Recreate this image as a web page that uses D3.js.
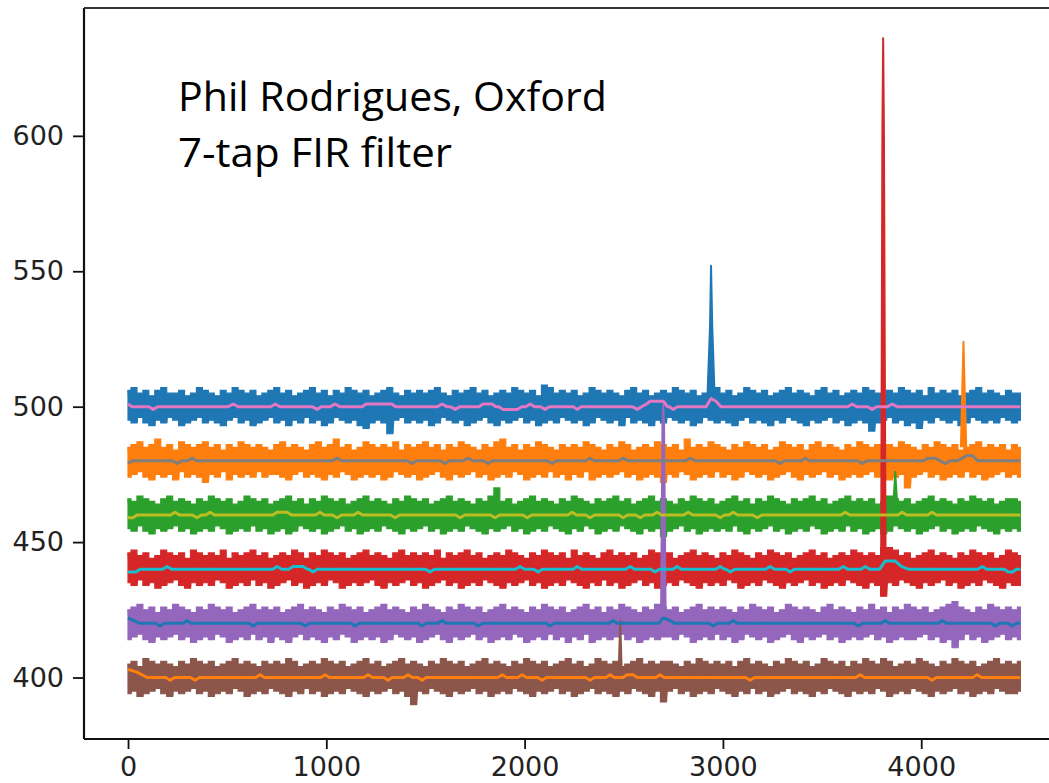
<!DOCTYPE html>
<html>
<head>
<meta charset="utf-8">
<script src="https://cdn.jsdelivr.net/npm/d3@7/dist/d3.min.js"></script>
<style>
  body { margin: 0; background: #fff; }
  svg { display: block; }
</style>
</head>
<body>
<div id="chart"></div>
<script>
// ---- data ----
const baselines = [500, 480, 460, 440, 420, 400];
const rawColors = ["#1f77b4", "#ff7f0e", "#2ca02c", "#d62728", "#9467bd", "#8c564b"];
const smoothColors = ["#e377c2", "#7f7f7f", "#bcbd22", "#17becf", "#1f77b4", "#ff7f0e"];
const xTicks = [0, 1000, 2000, 3000, 4000];
const yTicks = [400, 450, 500, 550, 600];
const binStep = 30; // one envelope reading every 30 samples, 0..4500

// upper / lower envelope of each noisy trace, in units away from its baseline
const blueHi = [6,7,5,6,4,6,7,5,5,6,4,5,7,6,5,4,6,5,7,6,5,6,4,5,6, 7,5,6,4,5,6,7,5,6,4,6,5,7,6,5,6,4,5,6,7,5,4,6,5,6, 5,6,7,5,4,6,5,6,7,5,6,4,5,6,5,7,6,5,6,4,8,7,5,6,5, 6,4,5,7,6,5,6,5,4,6,7,5,6,4,5,6,5,7,6,5,6,4,5,6,7, 5,6,4,5,7,6,5,6,4,5,6,7,5,6,5,4,6,7,5,6,4,5,6,5,7, 6,5,4,6,5,7,6,5,6,4,7,5,6,5,6,4,5,6,7,5,6,5,4,6,5, 5];
const blueLo = [5,6,4,6,7,5,6,4,5,7,6,5,4,6,5,6,7,5,4,6,5,7,6,5,4, 6,5,7,5,6,4,6,5,7,6,4,5,6,5,7,8,6,5,6,10,5,4,6,5,6, 5,7,6,4,5,6,5,7,6,5,4,6,7,5,6,5,4,6,5,7,6,5,6,4,5, 6,5,7,6,4,5,6,5,7,4,6,5,6,7,5,6,4,5,6,5,7,6,4,5,6, 5,6,7,5,4,6,5,6,7,5,6,4,5,6,7,5,6,5,4,6,5,7,6,5,6, 9,6,5,4,6,5,7,6,8,5,6,4,5,6,5,7,6,4,5,6,5,6,4,5,6, 5];
const orangeHi = [5,6,7,5,6,8,5,6,4,7,6,5,6,7,5,6,4,6,5,7,6,5,6,5,4, 6,7,5,6,5,4,6,7,5,6,8,5,6,4,5,7,6,5,6,5,7,4,6,5,6, 7,5,6,4,6,5,7,6,5,4,6,5,7,8,5,6,4,6,5,7,6,5,4,6,5, 6,5,7,6,5,4,6,5,7,6,4,5,6,5,7,6,5,6,4,8,5,6,5,7,6, 5,4,6,5,7,6,5,6,4,5,7,6,5,6,4,6,7,5,6,5,4,6,5,7,6, 5,6,4,6,5,7,6,5,4,6,5,7,6,5,6,4,5,6,7,5,6,5,6,4,6, 5];
const orangeLo = [6,5,4,6,7,5,6,5,7,4,6,5,6,8,5,6,4,7,5,6,5,6,4,6,5, 5,6,7,5,4,6,5,6,7,5,6,4,5,7,6,5,6,5,7,6,4,5,6,5,7, 6,5,4,6,7,5,6,5,4,6,5,7,6,5,6,4,5,7,6,5,6,4,6,5,7, 5,6,4,7,6,5,6,5,4,6,5,7,6,5,6,8,5,6,4,5,7,6,5,6,4, 6,5,7,6,4,5,6,5,7,6,5,4,6,7,5,6,5,4,6,5,7,6,5,6,5, 4,6,5,7,6,5,10,6,5,4,6,5,7,6,5,6,4,6,5,7,6,5,4,6,5, 6];
const greenHi = [6,5,7,6,5,4,6,7,5,6,5,4,6,5,7,6,5,6,4,5,7,6,5,6,4, 5,6,7,5,6,4,6,5,7,6,5,6,4,5,6,7,5,6,5,4,6,5,7,6,5, 6,4,5,6,7,5,6,5,4,6,5,7,10,5,6,4,5,6,7,5,6,5,4,6,5, 7,6,5,4,6,5,6,7,5,6,4,5,6,7,5,6,5,4,6,5,7,6,5,6,4, 5,6,7,5,6,4,6,5,7,6,5,4,6,5,6,7,5,6,4,5,6,7,5,6,5, 6,4,5,7,6,5,6,4,5,6,7,5,6,5,4,6,5,7,6,5,6,4,5,6,6, 5];
const greenLo = [5,6,4,6,7,5,6,5,4,6,5,7,6,5,6,4,5,7,6,5,6,4,6,5,7, 6,5,7,6,4,5,6,5,7,6,5,4,6,5,7,6,5,6,4,5,6,7,5,6,5, 4,6,5,7,6,5,6,4,5,6,7,5,6,5,4,6,5,7,6,5,6,4,5,6,7, 5,6,4,5,7,6,5,6,4,5,6,7,5,6,5,8,6,5,4,6,5,7,6,5,6, 5,6,4,6,7,5,6,5,4,6,5,7,6,5,6,4,5,7,6,5,6,4,6,5,7, 6,5,7,6,4,5,6,5,7,6,5,4,6,5,7,6,5,6,4,5,6,7,5,6,5, 6];
const redHi = [6,7,5,6,4,5,7,6,5,6,4,7,6,5,6,5,7,4,6,5,6,7,5,6,4, 5,6,5,7,6,4,6,5,7,6,5,6,4,5,6,7,5,6,5,4,6,7,5,6,5, 6,5,7,4,6,5,6,7,5,6,4,5,6,5,7,6,5,4,6,5,7,6,5,6,4, 7,5,6,5,4,6,7,5,6,5,6,4,5,7,6,5,6,4,5,6,7,5,6,5,4, 6,5,7,6,5,4,6,5,7,6,5,6,4,5,6,7,5,6,4,5,6,5,7,6,5, 6,5,8,8,7,5,6,4,5,6,7,5,6,5,4,6,5,7,6,5,6,4,5,7,6, 5];
const redLo = [5,6,4,6,5,7,6,5,4,6,7,5,6,5,6,4,5,7,6,5,6,4,6,5,7, 6,5,4,6,5,7,6,5,6,4,5,7,6,5,6,5,4,6,7,5,6,5,4,6,5, 7,6,5,4,6,5,7,6,5,6,4,5,6,7,5,6,5,4,6,5,7,6,5,6,4, 5,6,7,5,6,4,6,5,7,6,5,4,6,5,7,6,5,6,4,5,6,7,5,6,5, 6,4,5,7,6,5,6,4,5,6,7,5,6,5,4,6,5,7,6,5,6,4,5,6,7, 5,6,10,5,6,4,5,6,7,5,6,5,4,6,5,7,6,5,6,4,5,6,7,5,6, 6];
const purpleHi = [5,6,7,5,6,4,6,5,7,6,5,4,6,5,7,6,5,6,4,5,6,7,5,6,5, 6,4,5,6,7,5,6,5,4,6,5,7,6,5,6,4,5,6,7,5,6,5,4,6,5, 7,6,5,4,6,5,7,6,5,6,4,5,6,7,5,6,5,4,6,5,7,6,5,6,4, 5,6,7,5,6,4,6,5,7,6,5,4,6,5,7,6,5,6,4,5,6,7,5,6,5, 6,5,4,6,5,7,6,5,6,4,5,7,6,5,6,5,4,6,7,5,6,5,4,6,5, 7,5,6,4,6,5,7,6,5,6,4,5,6,7,8,6,5,4,6,5,7,6,5,6,5, 6];
const purpleLo = [6,5,4,6,7,5,6,5,4,6,5,7,6,5,6,4,5,7,6,5,6,4,6,5,7, 5,6,7,5,4,6,5,6,7,5,6,4,5,7,6,5,6,5,7,6,4,5,6,5,7, 6,5,4,6,7,5,6,5,4,6,5,7,6,5,6,4,5,7,6,5,6,4,6,5,7, 5,6,4,7,6,5,6,5,4,6,5,7,6,5,6,5,5,6,4,5,7,6,5,6,4, 6,5,7,6,4,5,6,5,7,6,5,4,6,7,5,6,5,4,6,5,7,6,5,6,5, 4,6,5,7,6,5,6,6,5,4,6,5,7,6,9,6,4,6,5,7,6,5,4,6,5, 6];
const brownHi = [5,6,4,7,6,5,6,5,4,6,5,7,6,5,6,4,5,6,7,5,6,5,4,6,5, 6,5,7,6,4,5,6,5,7,6,5,6,4,5,6,7,5,6,4,5,6,7,5,6,5, 4,6,5,7,6,5,6,4,5,6,7,5,6,5,4,6,5,7,6,5,6,4,5,6,7, 5,6,4,5,7,6,5,6,4,5,6,7,5,6,5,6,6,5,4,6,5,7,6,5,6, 5,6,4,6,7,5,6,5,4,6,5,7,6,5,6,4,5,7,6,5,6,4,6,5,7, 6,5,7,6,4,5,6,5,7,6,5,4,6,5,7,6,5,6,4,5,6,7,5,6,5, 6];
const brownLo = [6,5,7,6,5,4,6,7,5,6,5,4,6,5,7,6,5,6,4,5,7,6,5,6,4, 5,6,7,5,6,4,6,5,7,6,5,6,4,5,6,7,5,6,5,4,6,5,7,10,5, 6,4,5,6,7,5,6,5,4,6,5,7,6,5,6,4,5,6,7,5,6,5,4,6,5, 7,6,5,4,6,5,6,7,5,6,4,5,6,7,5,9,5,4,6,5,7,6,5,6,4, 5,6,7,5,6,4,6,5,7,6,5,4,6,5,6,7,5,6,4,5,6,7,5,6,5, 6,4,5,7,6,5,6,4,5,6,7,5,6,5,4,6,5,7,6,5,6,4,5,6,6, 5];

// the narrow glitches riding on the traces: [sample, value]
const blueSpike = [[2922, 504], [2935, 530], [2940, 552], [2946, 530], [2958, 504]];
const orangeSpike = [[4200, 485], [4209, 512], [4213, 524], [4217, 512], [4227, 485]];
const greenSpike = [[3860, 465], [3866, 472], [3869, 476], [3872, 472], [3878, 465]];
const redSpike = [[3798, 445], [3804, 600], [3808, 636], [3812, 600], [3820, 445]];
const purpleSpike = [[2688, 424], [2695, 494], [2699, 501], [2703, 494], [2711, 424]];
const brownSpike = [[2475, 404], [2480, 416], [2482, 421], [2484, 416], [2489, 404]];

// 7-tap FIR outputs: [sample, value]
const pinkSmooth = [[0,501],[20,500],[105,500],[127,499],[150,500],[505,500],[530,501],[555,500],[720,500],[742,501],[765,500],[930,500],[953,499],[975,500],[1020,500],[1044,501],[1068,500],[1180,500],[1200,501],[1330,501],[1350,500],[1560,500],[1584,501],[1608,500],[1625,500],[1650,499],[1675,500],[1770,500],[1790,501],[1836,501],[1855,500],[1870,500],[1890,499],[1965,499],[1985,500],[2005,500],[2028,501],[2050,500],[2080,500],[2103,499],[2125,500],[2245,500],[2265,499],[2285,500],[2545,500],[2567,499],[2590,500],[2615,501],[2633,502],[2700,502],[2720,500],[2730,500],[2749,499],[2770,500],[2915,500],[2940,503],[2965,502],[2990,500],[3630,500],[3652,501],[3675,500],[3730,500],[3753,499],[3775,500],[3830,500],[3854,501],[3878,500],[4500,500]];
const graySmooth = [[0,479],[20,480],[225,480],[247,479],[270,480],[300,480],[323,481],[345,480],[1030,480],[1054,481],[1078,480],[1410,480],[1432,479],[1455,480],[1575,480],[1599,479],[1620,480],[1690,480],[1715,481],[1740,480],[1795,480],[1816,479],[1838,480],[2115,480],[2139,479],[2160,480],[2310,480],[2330,481],[2350,480],[2475,480],[2497,481],[2520,480],[2810,480],[2835,481],[2860,480],[3265,480],[3289,479],[3310,480],[3395,480],[3415,481],[3435,480],[3680,480],[3702,479],[3725,480],[4010,480],[4035,481],[4070,481],[4095,480],[4121,479],[4145,480],[4185,480],[4207,481],[4230,482],[4257,482],[4285,480],[4500,480]];
const oliveSmooth = [[0,459],[25,459],[45,460],[215,460],[237,461],[260,460],[325,460],[348,459],[370,460],[392,460],[414,461],[436,460],[730,460],[751,461],[802,461],[825,460],[945,460],[968,461],[990,460],[1030,460],[1054,459],[1078,460],[1138,460],[1160,461],[1182,460],[1325,460],[1347,459],[1370,460],[1652,460],[1675,459],[1698,460],[1828,460],[1851,459],[1874,460],[1990,460],[2013,459],[2036,460],[2218,460],[2240,461],[2262,460],[2308,460],[2330,459],[2352,460],[2475,460],[2497,459],[2520,460],[2560,460],[2583,459],[2605,460],[2645,460],[2668,461],[2690,460],[2802,460],[2825,461],[2848,460],[2964,460],[2986,459],[3008,460],[3030,460],[3052,461],[3075,460],[3150,460],[3173,459],[3196,460],[3595,460],[3617,461],[3640,460],[3882,460],[3904,461],[3926,460],[4033,460],[4055,461],[4078,460],[4500,460]];
const cyanSmooth = [[0,439],[40,439],[60,440],[175,440],[197,441],[220,440],[730,440],[752,441],[775,440],[810,440],[832,441],[883,441],[905,440],[912,440],[933,439],[955,440],[1500,440],[1523,439],[1546,440],[1955,440],[1977,441],[2000,440],[2046,440],[2068,439],[2090,440],[2245,440],[2265,441],[2288,440],[2510,440],[2532,441],[2555,440],[2636,440],[2658,439],[2680,440],[2748,440],[2769,441],[2790,440],[2965,440],[2986,441],[3008,440],[3016,440],[3037,439],[3060,440],[3216,440],[3238,441],[3260,440],[3318,440],[3339,439],[3360,440],[3585,440],[3607,441],[3630,440],[3696,440],[3718,441],[3740,440],[3790,440],[3818,443],[3869,443],[3900,441],[3934,440],[4285,440],[4308,441],[4330,440],[4418,440],[4439,439],[4460,439],[4480,440],[4500,440]];
const blueSmooth = [[0,422],[30,421],[60,420],[140,420],[161,419],[182,420],[276,420],[298,421],[320,420],[610,420],[631,419],[652,420],[872,420],[893,419],[915,420],[1124,420],[1145,419],[1166,420],[1462,420],[1483,419],[1504,420],[1562,420],[1584,421],[1606,420],[1745,420],[1766,419],[1788,420],[2108,420],[2129,419],[2150,420],[2424,420],[2446,421],[2468,420],[2676,420],[2699,422],[2734,421],[2756,420],[2930,420],[2951,419],[2972,420],[3030,420],[3052,421],[3074,420],[3660,420],[3682,419],[3704,420],[3796,420],[3818,421],[3840,420],[4084,420],[4106,421],[4128,420],[4352,420],[4373,419],[4395,420],[4438,420],[4459,419],[4480,420],[4500,420]];
const orangeSmooth = [[0,403],[45,402],[96,400],[190,400],[212,399],[235,400],[315,400],[338,399],[360,400],[644,400],[666,401],[688,400],[972,400],[994,401],[1016,400],[1189,400],[1211,401],[1233,400],[1290,400],[1311,399],[1332,400],[1390,400],[1412,401],[1434,400],[1462,400],[1483,399],[1504,400],[1865,400],[1887,401],[1909,400],[1965,400],[1987,401],[2009,400],[2066,400],[2088,399],[2110,400],[2308,400],[2330,399],[2352,400],[2410,400],[2431,401],[2452,400],[2496,400],[2517,401],[2547,401],[2568,400],[2662,400],[2683,401],[2704,400],[3115,400],[3137,399],[3159,400],[3670,400],[3692,401],[3714,400],[4033,400],[4055,399],[4077,400],[4260,400],[4282,401],[4304,400],[4500,400]];

const noteLines = ["Phil Rodrigues, Oxford", "7-tap FIR filter"];

const highs = [blueHi, orangeHi, greenHi, redHi, purpleHi, brownHi];
const lows = [blueLo, orangeLo, greenLo, redLo, purpleLo, brownLo];
const spikes = [blueSpike, orangeSpike, greenSpike, redSpike, purpleSpike, brownSpike];
const smooths = [pinkSmooth, graySmooth, oliveSmooth, cyanSmooth, blueSmooth, orangeSmooth];

// ---- layout ----
const width = 1049, height = 783;
const plot = { left: 84, top: 8, bottom: 739, right: 1065 };

const svg = d3.select("#chart").append("svg")
  .attr("width", width)
  .attr("height", height);

const x = d3.scaleLinear().domain([-222, 4725]).range([plot.left, plot.right]);
const y = d3.scaleLinear().domain([377.3, 647.2]).range([plot.bottom, plot.top]);

svg.append("clipPath").attr("id", "clip")
  .append("rect")
  .attr("x", plot.left).attr("y", plot.top)
  .attr("width", plot.right - plot.left).attr("height", plot.bottom - plot.top);

const g = svg.append("g").attr("clip-path", "url(#clip)");

const band = d3.area()
  .curve(d3.curveStep)
  .x(d => x(d.t))
  .y0(d => y(d.lo))
  .y1(d => y(d.hi));
const line = d3.line().x(d => x(d[0])).y(d => y(d[1]));

// raw traces first, in colour-cycle order, each with its glitch
baselines.forEach(function(base, i) {
  let pts = highs[i].map(function(h, k) {
    return { t: k * binStep, hi: base + h, lo: base - lows[i][k] };
  });
  g.append("path")
    .attr("d", band(pts))
    .attr("fill", rawColors[i])
    .attr("stroke", rawColors[i])
    .attr("stroke-width", 1.2);
  // thin hairs through the envelope readings, like the dense raw line
  let zig = [];
  pts.forEach(function(p, k) {
    zig.push([p.t, p.hi]);
    if (k < pts.length - 1) zig.push([p.t + binStep / 2, p.lo]);
  });
  g.append("path")
    .attr("d", line(zig))
    .attr("fill", "none")
    .attr("stroke", rawColors[i])
    .attr("stroke-width", 1.3);
  g.append("path")
    .attr("d", line(spikes[i]))
    .attr("fill", rawColors[i])
    .attr("stroke", rawColors[i])
    .attr("stroke-width", 2)
    .attr("stroke-linejoin", "round");
});

// then the filtered outputs on top
smooths.forEach(function(s, i) {
  g.append("path")
    .attr("d", line(s))
    .attr("fill", "none")
    .attr("stroke", smoothColors[i])
    .attr("stroke-width", 3)
    .attr("stroke-linejoin", "round");
});

// ---- axes ----
const tickFont = "'DejaVu Sans', sans-serif";

const yAxis = svg.append("g")
  .attr("transform", `translate(${plot.left},0)`)
  .call(d3.axisLeft(y).tickValues(yTicks).tickSize(11).tickPadding(9).tickFormat(d3.format("d")));
const xAxis = svg.append("g")
  .attr("transform", `translate(0,${plot.bottom})`)
  .call(d3.axisBottom(x).tickValues(xTicks).tickSize(10).tickPadding(8).tickFormat(d3.format("d")));

[xAxis, yAxis].forEach(function(ax) {
  ax.select(".domain").remove();
  ax.selectAll(".tick line").attr("stroke", "#111").attr("stroke-width", 1.8);
  ax.selectAll(".tick text")
    .attr("fill", "#222")
    .style("font-family", tickFont)
    .style("font-size", "27px");
});

// spines (the right one falls outside the crop)
svg.append("line")
  .attr("x1", plot.left).attr("x2", plot.left)
  .attr("y1", plot.top).attr("y2", plot.bottom)
  .attr("stroke", "#111").attr("stroke-width", 2.2);
svg.append("line")
  .attr("x1", plot.left).attr("x2", plot.right)
  .attr("y1", plot.top).attr("y2", plot.top)
  .attr("stroke", "#333").attr("stroke-width", 2);
svg.append("line")
  .attr("x1", plot.left).attr("x2", plot.right)
  .attr("y1", plot.bottom).attr("y2", plot.bottom)
  .attr("stroke", "#111").attr("stroke-width", 2.2);

// ---- annotation ----
const noteWidths = [429, 274];
svg.selectAll("text.note")
  .data(noteLines)
  .join("text")
  .attr("class", "note")
  .attr("x", 178)
  .attr("y", (d, i) => 111 + i * 56)
  .attr("textLength", (d, i) => noteWidths[i])
  .attr("lengthAdjust", "spacingAndGlyphs")
  .style("font-family", "'Open Sans', 'Noto Sans', sans-serif")
  .style("font-size", "41px")
  .attr("fill", "#000")
  .text(d => d);
</script>
</body>
</html>
